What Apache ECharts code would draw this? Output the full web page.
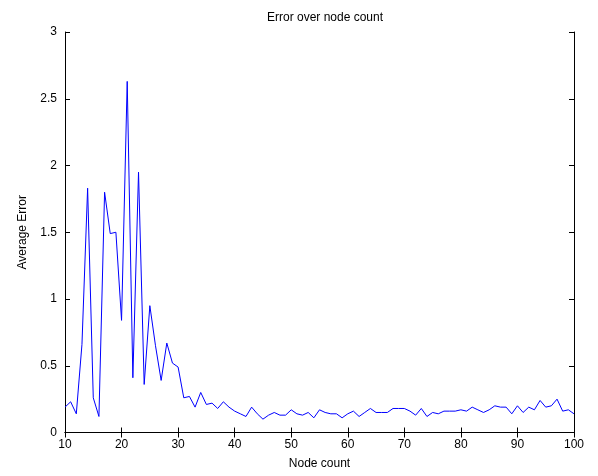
<!DOCTYPE html>
<html>
<head>
<meta charset="utf-8">
<script src="https://cdn.jsdelivr.net/npm/echarts@6/dist/echarts.min.js"></script>
<style>
html,body{margin:0;padding:0;background:#fff;}
#c{width:598px;height:476px;}
</style>
</head>
<body>
<div id="c"></div>
<script>
const nodeCounts = [10,11,12,13,14,15,16,17,18,19,20,21,22,23,24,25,26,27,28,29,30,
  31,32,33,34,35,36,37,38,39,40,41,42,43,44,45,46,47,48,49,50,
  51,52,53,54,55,56,57,58,59,60,61,62,63,64,65,66,67,68,69,70,
  71,72,73,74,75,76,77,78,79,80,81,82,83,84,85,86,87,88,89,90,
  91,92,93,94,95,96,97,98,99,100];
const avgError = [0.19,0.23,0.14,0.66,1.83,0.26,0.12,1.80,1.49,1.50,0.84,
  2.63,0.41,1.95,0.36,0.95,0.65,0.39,0.67,0.52,0.49,
  0.26,0.27,0.19,0.30,0.21,0.22,0.18,0.23,0.19,0.16,
  0.14,0.12,0.19,0.14,0.10,0.13,0.15,0.13,0.13,0.17,
  0.14,0.13,0.15,0.11,0.17,0.15,0.14,0.14,0.11,0.14,
  0.16,0.12,0.15,0.18,0.15,0.15,0.15,0.18,0.18,0.18,
  0.16,0.13,0.18,0.12,0.15,0.14,0.16,0.16,0.16,0.17,
  0.16,0.19,0.17,0.15,0.17,0.20,0.19,0.19,0.14,0.20,
  0.15,0.19,0.17,0.24,0.19,0.20,0.25,0.16,0.17,0.14];
const xTicks = [10,20,30,40,50,60,70,80,90,100];
const yTicks = ['0','0.5','1','1.5','2','2.5','3'];

const font = '"Liberation Sans", Arial, sans-serif';
const chart = echarts.init(document.getElementById('c'), null, {renderer:'canvas'});
const axisLine = {show:true, lineStyle:{color:'#000', width:1}};
const tick = {show:true, inside:true, length:5, lineStyle:{color:'#000', width:1}};
chart.setOption({
  animation:false,
  backgroundColor:'#fff',
  title:{text:'Error over node count', left:320, textAlign:'center', top:7,
    textStyle:{fontFamily:font, fontSize:12, fontWeight:'normal', color:'#000'}},
  grid:{left:65, right:24, top:32, bottom:43.5, containLabel:false},
  xAxis:[{
    type:'value', min:10, max:100, interval:10, position:'bottom',
    name:'Node count', nameLocation:'middle', nameGap:25,
    nameTextStyle:{fontFamily:font, fontSize:12, color:'#000'},
    axisLine:axisLine, axisTick:tick, splitLine:{show:false},
    axisLabel:{fontFamily:font, fontSize:12, color:'#000', margin:6,
      formatter:v=>xTicks.includes(v)?String(v):''}
  },{
    type:'value', min:10, max:100, interval:10, position:'top',
    axisLine:axisLine, axisTick:tick, axisLabel:{show:false}, splitLine:{show:false}
  }],
  yAxis:[{
    type:'value', min:0, max:3, interval:0.5, position:'left',
    name:'Average Error', nameLocation:'middle', nameGap:36, nameRotate:90,
    nameTextStyle:{fontFamily:font, fontSize:12, color:'#000'},
    axisLine:axisLine, axisTick:tick, splitLine:{show:false},
    axisLabel:{fontFamily:font, fontSize:12, color:'#000', margin:8,
      formatter:v=>yTicks[Math.round(v/0.5)]}
  },{
    type:'value', min:0, max:3, interval:0.5, position:'right',
    axisLine:axisLine, axisTick:tick, axisLabel:{show:false}, splitLine:{show:false}
  }],
  series:[{
    type:'line', xAxisIndex:0, yAxisIndex:0,
    data:nodeCounts.map((n,i)=>[n, avgError[i]]),
    showSymbol:false, symbol:'none',
    lineStyle:{color:'#0000ff', width:1}, itemStyle:{color:'#0000ff'}
  }]
});
</script>
</body>
</html>
